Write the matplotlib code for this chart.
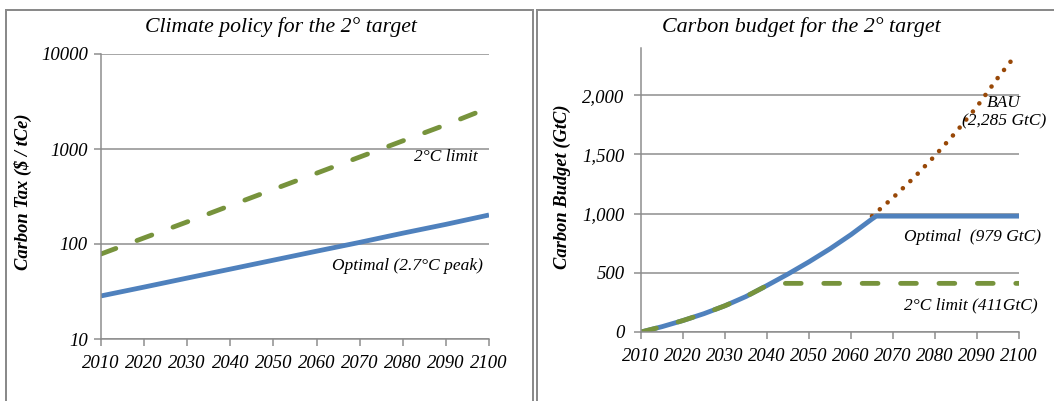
import matplotlib
matplotlib.use("Agg")
import matplotlib.pyplot as plt
from matplotlib.patches import Rectangle
from matplotlib.ticker import FuncFormatter, FixedLocator, NullLocator

# ---------------- data ----------------
years_tax = [2010, 2020, 2030, 2040, 2050, 2060, 2070, 2080, 2090, 2100]
tax_optimal = [28.4, 35.2, 43.8, 54.4, 67.6, 84.0, 104, 130, 161, 202]
tax_2c = [78.5, 116, 171, 254, 376, 556, 823, 1218, 1800, 2720]

years_opt = [2010, 2015, 2020, 2025, 2030, 2035, 2040, 2045, 2050, 2055, 2060, 2065, 2066, 2070, 2080, 2090, 2100]
budget_optimal = [0, 45, 97, 155, 222, 300, 393, 490, 593, 703, 823, 955, 979, 979, 979, 979, 979]

years_2c = [2010, 2015, 2020, 2025, 2030, 2035, 2040, 2041, 2050, 2060, 2070, 2080, 2090, 2100]
budget_2c = [0, 45, 97, 155, 222, 300, 393, 411, 411, 411, 411, 411, 411, 411]

years_bau = [2065, 2070, 2075, 2080, 2085, 2090, 2095, 2098]
budget_bau = [979, 1135, 1305, 1490, 1690, 1905, 2150, 2285]

x_ticks = [2010, 2020, 2030, 2040, 2050, 2060, 2070, 2080, 2090, 2100]
tax_ticks = [10, 100, 1000, 10000]
budget_ticks = [0, 500, 1000, 1500, 2000]

# ---------------- style ----------------
W, H = 1054, 401
DPI = 100
BLUE = "#4F81BD"
GREEN = "#77933C"
BROWN = "#984807"
GRID = "#8C8C8C"
SERIF = ["Liberation Serif", "DejaVu Serif"]
px = 72.0 / DPI  # points per pixel

plt.rcParams["font.family"] = SERIF

fig = plt.figure(figsize=(W / DPI, H / DPI), dpi=DPI)

# panel borders
fig.patches.append(Rectangle((6 / W, -0.05), (533 - 6) / W, 1.05 - 9.5 / H,
                             transform=fig.transFigure, fill=False,
                             edgecolor="#8a8a8a", linewidth=2 * px))
fig.patches.append(Rectangle((537 / W, -0.05), 0.5, 1.05 - 9.5 / H,
                             transform=fig.transFigure, fill=False,
                             edgecolor="#8a8a8a", linewidth=2 * px))


def style_axes(ax, ypad):
    for s in ("top", "right"):
        ax.spines[s].set_visible(False)
    for s in ("left", "bottom"):
        ax.spines[s].set_color(GRID)
        ax.spines[s].set_linewidth(1.5 * px)
    ax.tick_params(axis="both", which="major", direction="out", length=5,
                   width=1.5 * px, color=GRID)
    ax.tick_params(axis="x", pad=6.5)
    ax.tick_params(axis="y", pad=ypad)
    ax.tick_params(axis="both", which="minor", length=0)
    ax.grid(axis="y", which="major", color=GRID, linewidth=1.5 * px)
    ax.set_axisbelow(True)
    ax.set_xlim(2010, 2100)
    ax.xaxis.set_major_locator(FixedLocator(x_ticks))
    for lab in ax.get_xticklabels() + ax.get_yticklabels():
        lab.set_fontstyle("italic")
        lab.set_fontsize(13.5)


DASH = (0, (3.3, 4.7))
ANN = 12.5

# ---------------- left: carbon tax ----------------
ax1 = fig.add_axes([101 / W, 1 - 339 / H, 388 / W, 285 / H])
ax1.set_yscale("log")
ax1.set_ylim(10, 10000)
ax1.yaxis.set_major_locator(FixedLocator(tax_ticks))
ax1.yaxis.set_minor_locator(NullLocator())
ax1.yaxis.set_major_formatter(FuncFormatter(lambda v, p: f"{int(v)}"))
ax1.plot(years_tax, tax_optimal, color=BLUE, linewidth=4.8 * px,
         solid_capstyle="butt")
ax1.plot(years_tax, tax_2c, color=GREEN, linewidth=4.8 * px,
         linestyle=DASH, dash_capstyle="round")
style_axes(ax1, 4.5)
fig.text(281 / W, 1 - 27 / H, "Climate policy for the 2° target",
         fontsize=15.7, fontstyle="italic", ha="center", va="center")
fig.text(23 / W, 1 - 192 / H, "Carbon Tax ($ / tCe)", fontsize=13.3,
         fontweight="bold", fontstyle="italic", rotation=90,
         ha="center", va="center")
ax1.text(2097.4, 824, "2°C limit", ha="right", va="center", fontsize=ANN,
         fontstyle="italic")
ax1.text(2098.6, 58.6, "Optimal (2.7°C peak)", ha="right", va="center",
         fontsize=ANN, fontstyle="italic")

# ---------------- right: carbon budget ----------------
ax2 = fig.add_axes([641 / W, 1 - 332 / H, 378 / W, 284 / H])
ax2.set_ylim(0, 2400)
ax2.yaxis.set_major_locator(FixedLocator(budget_ticks))
ax2.yaxis.set_major_formatter(FuncFormatter(lambda v, p: f"{int(v):,}"))
ax2.plot(years_bau, budget_bau, color=BROWN, linewidth=4.6 * px,
         linestyle=(0, (0.01, 2.25)), dash_capstyle="round")
ax2.plot(years_opt, budget_optimal, color=BLUE, linewidth=4.8 * px,
         solid_capstyle="butt", solid_joinstyle="round")
ax2.plot(years_2c, budget_2c, color=GREEN, linewidth=4.8 * px,
         linestyle=DASH, dash_capstyle="round")
style_axes(ax2, 7)
fig.text(801 / W, 1 - 27 / H, "Carbon budget for the 2° target",
         fontsize=15.8, fontstyle="italic", ha="center", va="center")
fig.text(562 / W, 1 - 187 / H, "Carbon Budget (GtC)", fontsize=13.3,
         fontweight="bold", fontstyle="italic", rotation=90,
         ha="center", va="center")
ax2.text(2096.4, 1931, "BAU", ha="center", va="center", fontsize=ANN,
         fontstyle="italic", clip_on=False)
ax2.text(2096.4, 1779, "(2,285 GtC)", ha="center", va="center", fontsize=ANN,
         fontstyle="italic", clip_on=False)
ax2.text(2105.3, 801, "Optimal  (979 GtC)", ha="right", va="center",
         fontsize=ANN, fontstyle="italic", clip_on=False)
ax2.text(2104.5, 228, "2°C limit (411GtC)", ha="right", va="center",
         fontsize=ANN, fontstyle="italic", clip_on=False)

fig.savefig("out.png", dpi=DPI)
